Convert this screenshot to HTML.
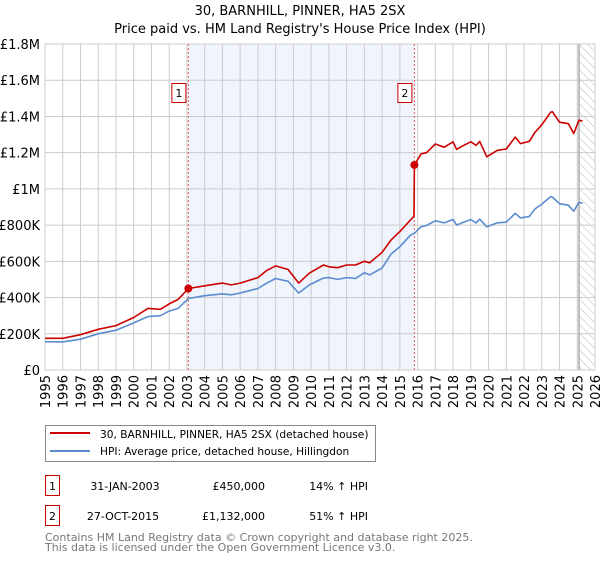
<!DOCTYPE html>
<html><head><meta charset="utf-8"><style>
body{margin:0;background:#fff;font-family:"DejaVu Sans","Liberation Sans",sans-serif;}
svg text{font-family:"DejaVu Sans","Liberation Sans",sans-serif;}
</style></head><body>
<svg id="c" width="600" height="560" xmlns="http://www.w3.org/2000/svg">
<defs><pattern id="hatch" width="6" height="6" patternUnits="userSpaceOnUse" patternTransform="rotate(-45)"><line x1="0" y1="0" x2="0" y2="6" stroke="#bbb" stroke-width="1"/></pattern></defs>
<text x="300" y="15" text-anchor="middle" font-size="13">30, BARNHILL, PINNER, HA5 2SX</text>
<text x="300" y="33" text-anchor="middle" font-size="13">Price paid vs. HM Land Registry's House Price Index (HPI)</text>
<g id="plot"></g>
<g>
<rect x="45.5" y="425.5" width="330" height="36" fill="#fff" stroke="#888"/>
<line x1="50" y1="433" x2="90" y2="433" stroke="#cc0000" stroke-width="2"/>
<text x="100" y="438" font-size="10.6">30, BARNHILL, PINNER, HA5 2SX (detached house)</text>
<line x1="50" y1="451" x2="90" y2="451" stroke="#5b8ccf" stroke-width="2"/>
<text x="100" y="455" font-size="10.6">HPI: Average price, detached house, Hillingdon</text>
</g>
<g>
<rect x="45.5" y="475.5" width="14" height="20" fill="#fff" stroke="#cc0000"/>
<text x="52.5" y="490" text-anchor="middle" font-size="11">1</text>
<text x="125" y="490" text-anchor="middle" font-size="11">31-JAN-2003</text>
<text x="265" y="490" text-anchor="end" font-size="11">£450,000</text>
<text x="368" y="490" text-anchor="end" font-size="11">14% ↑ HPI</text>
</g>
<g>
<rect x="45.5" y="505.5" width="14" height="20" fill="#fff" stroke="#cc0000"/>
<text x="52.5" y="520" text-anchor="middle" font-size="11">2</text>
<text x="123" y="520" text-anchor="middle" font-size="11">27-OCT-2015</text>
<text x="265" y="520" text-anchor="end" font-size="11">£1,132,000</text>
<text x="368" y="520" text-anchor="end" font-size="11">51% ↑ HPI</text>
</g>
<text x="45" y="541" font-size="11" fill="#777">Contains HM Land Registry data © Crown copyright and database right 2025.</text>
<text x="45" y="551" font-size="11" fill="#777">This data is licensed under the Open Government Licence v3.0.</text>
</svg>
<script>
const hpiYears=[1995,1996,1997,1998,1999,2000,2000.8,2001.5,2002,2002.5,2003.08,2004,2005,2005.5,2006,2007,2007.5,2008,2008.7,2009.3,2009.9,2010.7,2011,2011.5,2012,2012.5,2013,2013.3,2014,2014.5,2015,2015.6,2015.82,2016.2,2016.5,2017,2017.5,2018,2018.2,2018.5,2019,2019.3,2019.5,2019.9,2020.5,2021,2021.5,2021.8,2022.3,2022.6,2023,2023.5,2023.6,2024,2024.5,2024.8,2025.1,2025.3];
const hpiValues=[156,155,170,200,220,260,295,300,325,340,395,410,420,415,425,450,480,505,490,425,470,508,510,500,510,505,537,525,563,640,680,745,755,791,798,824,812,831,800,812,831,812,833,790,813,816,865,840,848,888,916,957,955,918,910,877,926,921];
const propYears=[1995,1996,1997,1998,1999,2000,2000.8,2001.5,2002,2002.5,2003.08,2004,2005,2005.5,2006,2007,2007.5,2008,2008.7,2009.3,2009.9,2010.7,2011,2011.5,2012,2012.5,2013,2013.3,2014,2014.5,2015,2015.6,2015.8,2015.82,2016.2,2016.5,2017,2017.5,2018,2018.2,2018.5,2019,2019.3,2019.5,2019.9,2020.5,2021,2021.5,2021.8,2022.3,2022.6,2023,2023.5,2023.6,2024,2024.5,2024.8,2025.1,2025.3];
const propValues=[175,175,195,225,245,290,340,335,365,390,450,465,480,470,480,510,550,575,555,480,535,580,570,565,580,580,600,592,650,717,764,828,850,1132,1193,1200,1248,1230,1260,1218,1235,1260,1240,1262,1177,1213,1220,1286,1250,1263,1310,1354,1423,1426,1368,1360,1306,1379,1375];
const sales=[{n:'1',year:2003.08,value:450},{n:'2',year:2015.82,value:1132}];
const yTicks=[0,200,400,600,800,1000,1200,1400,1600,1800];
const yTickLabels=['£0','£200K','£400K','£600K','£800K','£1M','£1.2M','£1.4M','£1.6M','£1.8M'];
const xTicks=[1995,1996,1997,1998,1999,2000,2001,2002,2003,2004,2005,2006,2007,2008,2009,2010,2011,2012,2013,2014,2015,2016,2017,2018,2019,2020,2021,2022,2023,2024,2025,2026];
const L=45,R=595,T=44,B=370,X0=1995,X1=2026,YMAX=1800,FUT=2025.1;
const x=v=>L+(v-X0)/(X1-X0)*(R-L);
const y=v=>B-v/YMAX*(B-T);
const NS='http://www.w3.org/2000/svg';
const g=document.getElementById('plot');
function mk(t,a){const e=document.createElementNS(NS,t);for(const k in a)e.setAttribute(k,a[k]);g.appendChild(e);return e;}
let e=mk('rect',{x:x(sales[0].year),y:T,width:x(sales[1].year)-x(sales[0].year),height:B-T,fill:'#f0f4fd'});


e=mk('rect',{x:x(FUT),y:T,width:R-x(FUT),height:B-T,fill:'url(#hatch)'});


yTicks.forEach((t,i)=>{
 let l=mk('line',{x1:L,x2:R,y1:y(t),y2:y(t),stroke:'#ccc','stroke-width':1});
 
 
 let tx=mk('text',{x:L-5,y:y(t)+5,'text-anchor':'end','font-size':13});
 tx.textContent=yTickLabels[i];
 
 
});
xTicks.forEach(t=>{
 let l=mk('line',{x1:x(t),x2:x(t),y1:T,y2:B,stroke:'#ccc','stroke-width':1});
 
 
 let tx=mk('text',{x:0,y:0,'text-anchor':'end','font-size':13,transform:`translate(${x(t)+5},${B+5}) rotate(-90)`});
 tx.textContent=t;
 
 
});
e=mk('line',{x1:x(FUT),x2:x(FUT),y1:T,y2:B,stroke:'#999','stroke-width':1.2});


e=mk('rect',{x:L,y:T,width:R-L,height:B-T,fill:'none',stroke:'#ccc'});


sales.forEach(s=>{
 let l=mk('line',{x1:x(s.year),x2:x(s.year),y1:T,y2:B,stroke:'#e06060','stroke-width':1,'stroke-dasharray':'2,2'});
 
 
});
function path(xs,vs,c,name){
 const d=xs.map((v,i)=>(i?'L':'M')+x(v).toFixed(1)+','+y(vs[i]).toFixed(1)).join('');
 const p=mk('path',{d:d,fill:'none',stroke:c,'stroke-width':1.6,'stroke-linejoin':'round'});
 
 
}
path(hpiYears,hpiValues,'#5b8ccf','hpi-line');
path(propYears,propValues,'#cc0000','property-price-line');
sales.forEach(s=>{
 let c=mk('circle',{cx:x(s.year),cy:y(s.value),r:4,fill:'#cc0000'});
 
 
 let r=mk('rect',{x:x(s.year)-16.5,y:83.5,width:14,height:19,fill:'#fff',stroke:'#cc0000'});
 
 
 let t=mk('text',{x:x(s.year)-9.5,y:97,'text-anchor':'middle','font-size':11});
 t.textContent=s.n;
 
 
});
</script>
</body></html>
